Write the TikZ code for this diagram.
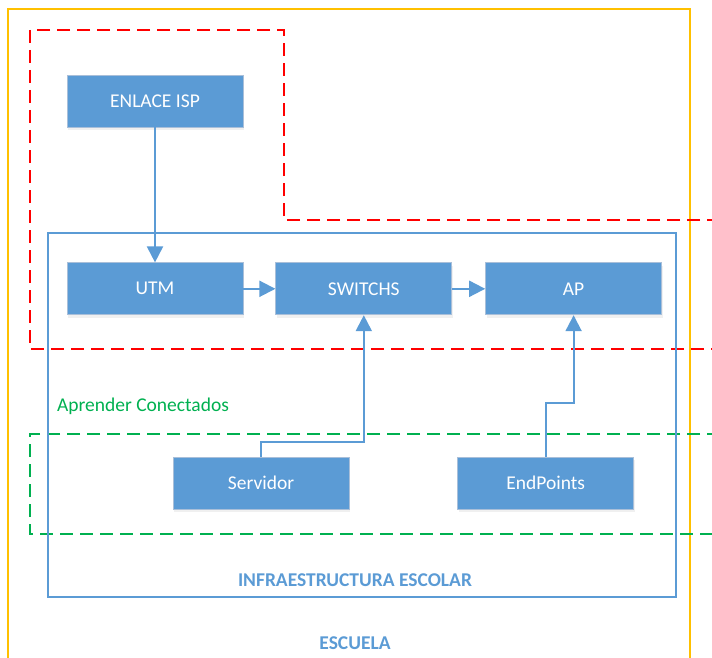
\documentclass[tikz,border=0pt]{standalone}
\usepackage{fontspec}
\setmainfont{Carlito}
\usetikzlibrary{positioning,arrows.meta,shadows}
\definecolor{boxblue}{HTML}{5B9BD5}
\definecolor{boxline}{HTML}{A9BFD9}
\definecolor{zonered}{HTML}{FF0000}
\definecolor{zonegreen}{HTML}{00B050}
\definecolor{zoneyellow}{HTML}{FFC000}

\begin{document}
\begin{tikzpicture}[
  x = 1pt,
  y = -1pt,
  equipo/.style = {
    draw = boxline,
    rectangle,
    fill = boxblue,
    text = white,
    line width = 0.8pt,
    minimum width = 176pt,
    minimum height = 52pt,
    font = \fontsize{19.5}{23}\selectfont,
    drop shadow = {opacity=0.12, shadow xshift=1pt, shadow yshift=-3pt},
  },
  enlace/.style = {
    draw = boxblue,
    line width = 2pt,
    -{Triangle[length=16pt,width=16pt]},
  },
  zona/.style = {
    line width = 2pt,
    dash pattern = on 13pt off 7pt,
  },
  titulo/.style = {
    text = boxblue,
    font = \fontsize{19.5}{23}\selectfont\bfseries,
  },
]

  \clip (0,0) rectangle (712,658);

  % zonas
  \draw[zoneyellow,line width=2pt] (8,9) rectangle (690,680);
  \draw[zona,zonered] (720,220) -- (284,220) -- (284,30) -- (30,30) -- (30,349) -- (720,349);
  \draw[zona,zonegreen] (720,434) -- (30,434) -- (30,534) -- (720,534);
  \draw[boxblue,line width=2pt] (48,233) rectangle (676,597);

  \node[titulo] (infra) at (355,580) {INFRAESTRUCTURA ESCOLAR};
  \node[titulo] (escuela) at (355,643) {ESCUELA};
  \node[text=zonegreen,font=\fontsize{19.5}{23}\selectfont] (aprender) at (143,406) {Aprender Conectados};

  % equipos
  \node[equipo] (enlace) at (155,101) {ENLACE ISP};
  \node[equipo] (utm) [below=135pt of enlace] {UTM};
  \node[equipo] (switchs) [right=32pt of utm] {SWITCHS};
  \node[equipo] (ap) [right=33pt of switchs] {AP};

  \node[equipo] (servidor) at (261,483) {Servidor};
  \node[equipo] (endpoints) [right=108pt of servidor] {EndPoints};

  \draw[enlace] (enlace) -- (utm);
  \draw[enlace] (utm) -- (switchs);
  \draw[enlace] (switchs) -- (ap);
  \draw[enlace] (servidor.north) -- ++(0,-15) -| (switchs.south);
  \draw[enlace] (endpoints.north) -- ++(0,-54) -| (ap.south);

\end{tikzpicture}
\end{document}
